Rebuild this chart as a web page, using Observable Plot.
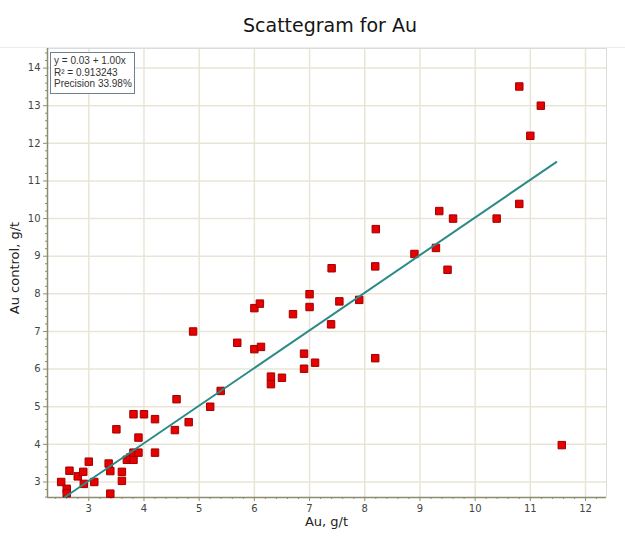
<!DOCTYPE html>
<html><head><meta charset="utf-8">
<script src="https://cdn.jsdelivr.net/npm/d3@7"></script>
<script src="https://cdn.jsdelivr.net/npm/@observablehq/plot@0.6"></script>
<style>
body{margin:0;background:#fff;width:625px;height:546px;overflow:hidden;position:relative;font-family:"DejaVu Sans",sans-serif}
#title{height:47px;border-bottom:1px solid #ececec;text-align:center;font-size:19px;line-height:50px;color:#151515;padding-left:35px;box-sizing:content-box}
#chart{position:absolute;left:0;top:48px}
#legend{position:absolute;left:50px;top:52px;width:80px;height:38px;border:1.5px solid #6f7f90;background:#fff;font-family:"Liberation Sans",sans-serif;font-size:10px;line-height:11.7px;color:#333;padding:2px 0 0 3px}
#xlabel{position:absolute;left:47px;width:559px;top:514px;text-align:center;font-size:13px;color:#222}
#ylabel{position:absolute;left:14px;top:268px;transform:translate(-50%,-50%) rotate(-90deg);white-space:nowrap;font-size:13px;color:#222}
</style>
</head><body>
<div id="title">Scattegram for Au</div>
<div id="chart"></div>
<div id="legend"></div>
<div id="xlabel">Au, g/t</div>
<div id="ylabel">Au control, g/t</div>
<script>
const auX = [2.5,2.6,2.6,2.65,2.8,2.9,2.91,3.0,3.1,3.36,3.39,3.39,3.5,3.6,3.6,3.69,3.75,3.81,3.81,3.9,3.81,3.9,4.0,4.2,4.2,4.56,4.59,4.81,4.89,5.2,5.39,5.69,6.0,6.1,6.0,6.12,6.3,6.3,6.5,6.7,7.0,7.0,6.9,7.1,6.9,7.39,7.54,7.4,7.9,8.19,8.2,8.19,8.9,9.29,9.35,9.5,9.6,10.39,10.8,10.8,11.0,11.19,11.57];
const auControl = [3.0,2.82,2.7,3.3,3.15,3.27,2.95,3.54,3.0,3.49,3.29,2.69,4.4,3.27,3.03,3.59,3.65,3.59,3.78,3.78,4.8,4.18,4.8,4.67,3.78,4.38,5.2,4.59,7.0,5.0,5.42,6.7,7.62,7.74,6.53,6.59,5.8,5.6,5.77,7.46,7.99,7.65,6.41,6.17,6.01,7.19,7.8,8.68,7.84,8.73,9.72,6.29,9.06,9.22,10.2,8.64,10.0,10.0,10.39,13.51,12.2,13.0,3.98];
const fitIntercept = 0.03, fitSlope = 1.00;
const fitRange = [2.57, 11.47];
const legendLines = ["y = 0.03 + 1.00x", "R² = 0.913243", "Precision 33.98%"];
const xTicks = [3,4,5,6,7,8,9,10,11,12];
const yTicks = [3,4,5,6,7,8,9,10,11,12,13,14];
const xDomain = [2.252, 12.38];
const yDomain = [2.588, 14.52];

const points = auX.map((x, i) => ({x, y: auControl[i]}));
const fit = fitRange.map(x => ({x, y: fitIntercept + fitSlope * x}));
const xMinor = d3.range(2.4, 12.3, 0.2).filter(v => Math.abs(v - Math.round(v)) > 0.01);
const yMinor = d3.range(2.6, 14.5, 0.2).filter(v => Math.abs(v - Math.round(v)) > 0.01);

document.getElementById("legend").innerHTML = legendLines.map(t => `<div>${t}</div>`).join("");

const axisColor = "#8d8d6e";
const gridColor = "#e9e5d6";
const chart = Plot.plot({
  width: 625, height: 499,
  marginLeft: 47, marginRight: 19, marginTop: 0, marginBottom: 50,
  x: {domain: xDomain},
  y: {domain: yDomain},
  style: {fontFamily: "DejaVu Sans, sans-serif", fontSize: "10px", color: "#444", background: "white", overflow: "visible"},
  marks: [
    Plot.gridX(xTicks, {stroke: gridColor, strokeOpacity: 1, strokeWidth: 1.5}),
    Plot.gridY(yTicks, {stroke: gridColor, strokeOpacity: 1, strokeWidth: 1.5}),
    Plot.ruleX([xDomain[1]], {stroke: "#dcdcdc"}),
    Plot.ruleY([yDomain[1]], {stroke: "#dcdcdc"}),
    Plot.axisX({ticks: xTicks, tickSize: 4, tickPadding: 3, label: null, stroke: axisColor, fill: "#444"}),
    Plot.axisX({ticks: xMinor, tickSize: 2, text: null, label: null, stroke: axisColor}),
    Plot.axisY({ticks: yTicks, tickSize: 4, tickPadding: 3, label: null, stroke: axisColor, fill: "#444"}),
    Plot.axisY({ticks: yMinor, tickSize: 2, text: null, label: null, stroke: axisColor}),
    Plot.ruleX([xDomain[0]], {stroke: axisColor, strokeWidth: 1.5}),
    Plot.ruleY([yDomain[0]], {stroke: axisColor, strokeWidth: 1.5}),
    Plot.dot(points, {x: "x", y: "y", symbol: "square", r: 4.2, fill: "#e60000", stroke: "#a00000", strokeWidth: 1}),
    Plot.line(fit, {x: "x", y: "y", stroke: "#2a8b87", strokeWidth: 2})
  ]
});
document.getElementById("chart").appendChild(chart);
</script>
</body></html>
